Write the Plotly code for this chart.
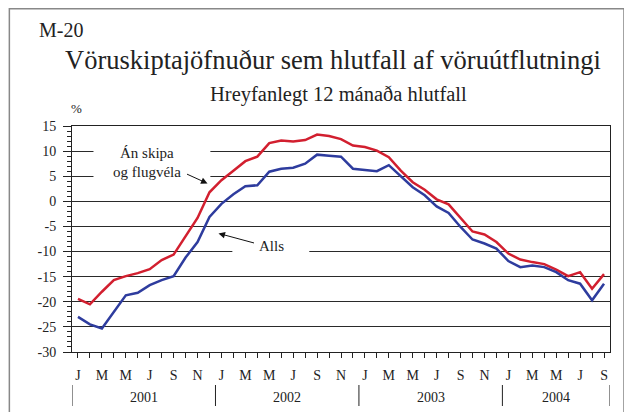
import plotly.graph_objects as go

# ---- data ----
month_letters = ["J", "F", "M", "A", "M", "J", "J", "Á", "S", "O", "N", "D"]
years = ["2001", "2002", "2003", "2004"]
n_months = 45  # Jan 2001 .. Sep 2004

an_skipa = [-19.4, -20.5, -18.0, -15.7, -14.9, -14.3, -13.5, -11.7, -10.6, -7.0, -3.3, 1.8,
            4.2, 6.1, 8.0, 8.9, 11.6, 12.1, 11.9, 12.2, 13.3, 13.0, 12.4, 11.1,
            10.8, 10.1, 8.8, 6.1, 3.8, 2.3, 0.4, -0.6, -3.3, -6.0, -6.6, -8.1,
            -10.4, -11.6, -12.1, -12.5, -13.6, -14.9, -14.1, -17.4, -14.5]
alls = [-23.0, -24.5, -25.3, -22.0, -18.7, -18.2, -16.7, -15.7, -14.9, -11.2, -8.1, -3.1,
        -0.5, 1.4, 3.0, 3.2, 5.9, 6.5, 6.7, 7.5, 9.3, 9.1, 8.9, 6.5,
        6.3, 6.0, 7.2, 4.9, 2.8, 1.2, -1.0, -2.3, -5.1, -7.6, -8.4, -9.4,
        -11.9, -13.1, -12.8, -13.1, -14.1, -15.7, -16.4, -19.7, -16.4]

y_ticks = [15, 10, 5, 0, -5, -10, -15, -20, -25, -30]

x = list(range(n_months))
month_text = []
for i in x:
    m = i % 12
    month_text.append(month_letters[m] if m % 2 == 0 else "")

FONT = "Liberation Serif"
INK = "#222"
RED = "#d21f2f"
BLUE = "#2e3c9e"

fig = go.Figure()
fig.add_trace(go.Scatter(x=x, y=an_skipa, mode="lines", line=dict(color=RED, width=2.5),
                         name="Án skipa og flugvéla", showlegend=False))
fig.add_trace(go.Scatter(x=x, y=alls, mode="lines", line=dict(color=BLUE, width=2.5),
                         name="Alls", showlegend=False))

OFF = 8  # page body margin of the browser
W, H = 624, 404
L, R, T, B = 63.5, 22, 118, 60
PW = W - L - R
PH = H - T - B


def px(xp):
    return (xp - OFF - L) / PW


def py(yp):
    return (H - B - (yp - OFF)) / PH


def dx(xp):
    return (xp - 77.3) / 11.97


def dy(yp):
    return (200.9 - yp) / 5.03


fig.update_layout(
    width=W, height=H,
    margin=dict(l=L, r=R, t=T, b=B, pad=0),
    paper_bgcolor="white", plot_bgcolor="white",
    font=dict(family=FONT, color=INK, size=14),
    showlegend=False,
)

fig.update_xaxes(
    range=[-0.5, n_months - 0.5],
    tickmode="array", tickvals=x, ticktext=month_text,
    ticks="outside", ticklen=5, tickcolor=INK, tickwidth=1,
    showgrid=False, zeroline=False,
    showline=True, linecolor=INK, linewidth=1, mirror=True,
    tickfont=dict(family=FONT, size=14, color=INK),
    ticklabelstandoff=5,
)
fig.update_yaxes(
    range=[-30, 15],
    tickmode="array", tickvals=y_ticks, ticktext=[str(v) for v in y_ticks],
    ticks="outside", ticklen=8, tickcolor=INK, tickwidth=1,
    minor=dict(dtick=1, tick0=0, ticks="outside", ticklen=4, tickcolor=INK, showgrid=False),
    showgrid=True, gridcolor="#2a2a2a", gridwidth=1,
    zeroline=False,
    showline=True, linecolor=INK, linewidth=1, mirror=True,
    tickfont=dict(family=FONT, size=14, color=INK),
    ticklabelstandoff=4,
)

shapes = []
# white boxes behind the in-chart labels
shapes.append(dict(type="rect", xref="paper", yref="paper", x0=px(93), x1=px(210),
                   y0=py(184), y1=py(140), fillcolor="white", line=dict(width=0), layer="above"))
shapes.append(dict(type="rect", xref="paper", yref="paper", x0=px(232), x1=px(309),
                   y0=py(256), y1=py(238), fillcolor="white", line=dict(width=0), layer="above"))
# year separators
for sep in [-0.5, 11.5, 23.5, 35.5, 44.5]:
    shapes.append(dict(type="line", xref="x", yref="paper", x0=sep, x1=sep,
                       y0=py(385), y1=py(406), line=dict(color=INK, width=1)))
# outer frame (left / right / top edges)
shapes.append(dict(type="rect", xref="paper", yref="paper", x0=px(8.8), x1=px(624),
                   y0=py(430), y1=py(8.8), line=dict(color="#888", width=1.5),
                   fillcolor="rgba(0,0,0,0)"))
fig.update_layout(shapes=shapes)

ann = []
ann.append(dict(text="M-20", xref="paper", yref="paper", x=px(36), y=py(30),
                xanchor="left", yanchor="middle", showarrow=False,
                font=dict(family=FONT, size=20, color=INK)))
ann.append(dict(text="Vöruskiptajöfnuður sem hlutfall af vöruútflutningi", xref="paper", yref="paper",
                x=px(333), y=py(60), xanchor="center", yanchor="middle", showarrow=False,
                font=dict(family=FONT, size=26.5, color=INK)))
ann.append(dict(text="Hreyfanlegt 12 mánaða hlutfall", xref="paper", yref="paper",
                x=px(338), y=py(95), xanchor="center", yanchor="middle", showarrow=False,
                font=dict(family=FONT, size=20.5, color=INK)))
ann.append(dict(text="%", xref="paper", yref="paper", x=px(76), y=py(108),
                xanchor="center", yanchor="middle", showarrow=False,
                font=dict(family=FONT, size=13, color=INK)))
for i, yr in enumerate(years):
    c = 5.5 + 12 * i if i < 3 else 40
    ann.append(dict(text=yr, xref="x", yref="paper", x=c, y=py(397),
                    xanchor="center", yanchor="middle", showarrow=False,
                    font=dict(family=FONT, size=14, color=INK)))
ann.append(dict(text="Án skipa", xref="x", yref="y", x=dx(146), y=dy(152), showarrow=False,
                xanchor="center", yanchor="middle", font=dict(family=FONT, size=15, color=INK)))
ann.append(dict(text="og flugvéla", xref="x", yref="y", x=dx(146), y=dy(172), showarrow=False,
                xanchor="center", yanchor="middle", font=dict(family=FONT, size=15, color=INK)))
ann.append(dict(text="Alls", xref="x", yref="y", x=dx(271), y=dy(246), showarrow=False,
                xanchor="center", yanchor="middle", font=dict(family=FONT, size=15, color=INK)))
# arrows
ann.append(dict(text="", xref="x", yref="y", x=dx(207), y=dy(183), ax=-22, ay=-10,
                showarrow=True, arrowhead=2, arrowsize=1.3, arrowwidth=1, arrowcolor="#111"))
ann.append(dict(text="", xref="x", yref="y", x=dx(218), y=dy(233), ax=37, ay=10,
                showarrow=True, arrowhead=2, arrowsize=1.3, arrowwidth=1, arrowcolor="#111"))
fig.update_layout(annotations=ann)

fig.write_html("out.html")
